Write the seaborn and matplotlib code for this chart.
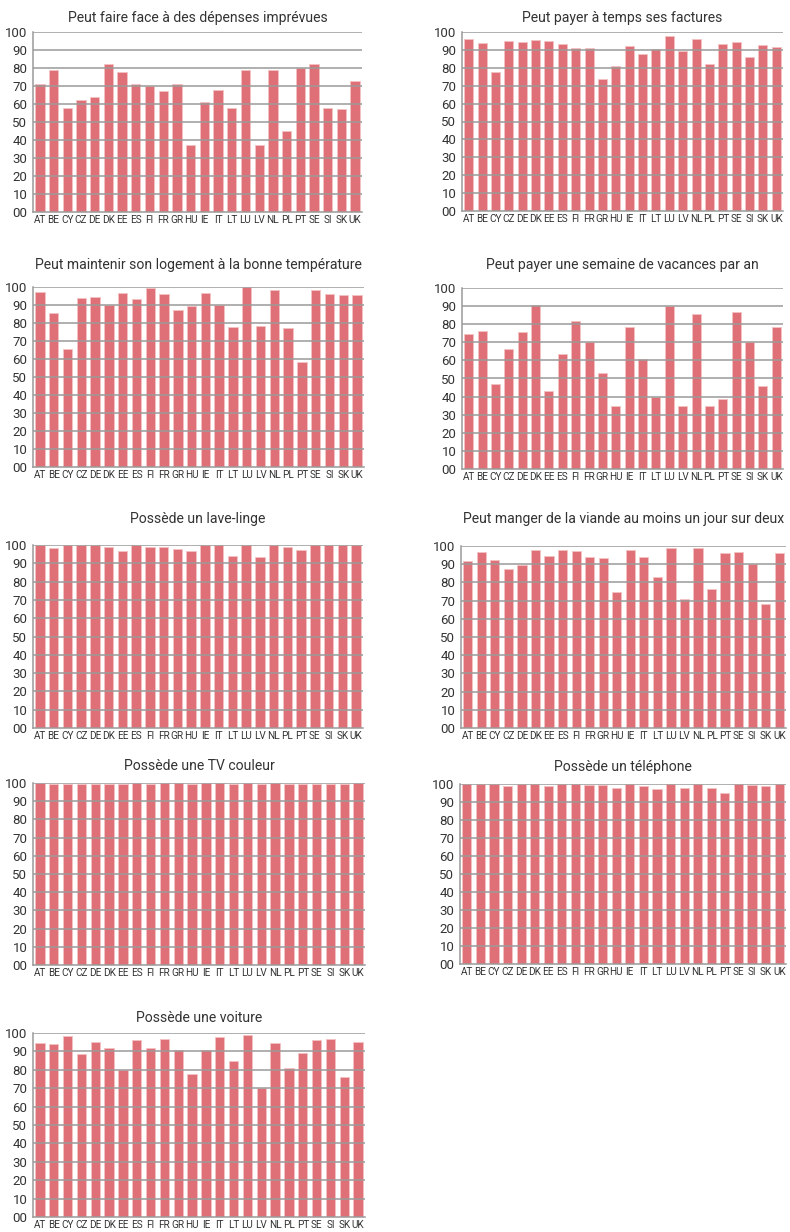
import numpy as np
import pandas as pd
import matplotlib
matplotlib.use('Agg')
import matplotlib.pyplot as plt
import seaborn as sns

countries = ['AT', 'BE', 'CY', 'CZ', 'DE', 'DK', 'EE', 'ES', 'FI', 'FR', 'GR', 'HU',
             'IE', 'IT', 'LT', 'LU', 'LV', 'NL', 'PL', 'PT', 'SE', 'SI', 'SK', 'UK']

depenses_imprevues = [71, 79, 58, 62, 64, 82, 78, 71, 70, 67, 71, 37,
                      61, 68, 58, 79, 37, 79, 45, 80, 82, 58, 57, 73]
factures = [96.3, 93.9, 77.5, 94.8, 94.2, 95.5, 95.2, 93.5, 91.1, 91.1, 73.6, 80.9,
            92.4, 87.9, 90.7, 97.6, 89.4, 95.9, 82.3, 93.1, 94.4, 85.9, 92.6, 91.4]
temperature = [97.4, 85.4, 65.6, 94.1, 94.6, 89.8, 96.7, 93.1, 99.3, 96.0, 87.0, 89.6,
               96.7, 90.0, 77.8, 99.8, 78.3, 98.3, 77.4, 58.3, 98.3, 96.1, 95.7, 95.7]
vacances = [74.4, 76.2, 46.9, 66.3, 75.5, 90.4, 43.2, 63.8, 81.5, 70.1, 52.9, 34.7,
            78.4, 60.7, 40.0, 90.0, 34.7, 85.6, 35.0, 38.4, 86.7, 70.3, 45.9, 78.4]
lave_linge = [100, 98.4, 100, 100, 100, 98.7, 96.7, 100, 98.7, 99.1, 98.0, 96.7,
              100, 100, 94.0, 100, 93.6, 100, 99.1, 97.3, 100, 100, 100, 100]
viande = [91.9, 96.9, 92.3, 87.2, 89.4, 97.6, 94.3, 98.0, 97.1, 94.0, 93.6, 74.7,
          98.0, 94.0, 83.2, 98.7, 70.7, 98.7, 76.4, 96.2, 96.5, 90.1, 68.3, 96.3]
tv_couleur = [100, 99.7, 99.7, 99.6, 99.6, 99.6, 99.6, 99.8, 99.2, 100, 100, 99.5,
              100, 99.8, 99.2, 100, 99.2, 100, 99.2, 99.6, 99.6, 99.6, 99.6, 100]
telephone = [100, 100, 100, 99.1, 100, 100, 99.1, 100, 100, 99.6, 99.6, 97.6,
             100, 99.1, 97.0, 100, 97.6, 100, 98.0, 95.2, 100, 99.6, 98.7, 100]
voiture = [94.4, 93.9, 98.6, 88.6, 95.3, 91.7, 79.9, 96.0, 91.7, 96.9, 91.0, 77.6,
           91.0, 97.6, 85.0, 98.9, 70.3, 94.8, 80.8, 89.0, 96.4, 96.9, 76.3, 95.3]

titles = ['Peut faire face à des dépenses imprévues',
          'Peut payer à temps ses factures',
          'Peut maintenir son logement à la bonne température',
          'Peut payer une semaine de vacances par an',
          'Possède un lave-linge',
          'Peut manger de la viande au moins un jour sur deux',
          'Possède une TV couleur',
          'Possède un téléphone',
          'Possède une voiture']
series = [depenses_imprevues, factures, temperature, vacances, lave_linge,
          viande, tv_couleur, telephone, voiture]
yticks = [0, 10, 20, 30, 40, 50, 60, 70, 80, 90, 100]
ytick_labels = ['00', '10', '20', '30', '40', '50', '60', '70', '80', '90', '100']

sns.set_style('white')
plt.rcParams['font.family'] = ['Roboto', 'DejaVu Sans']

W, H = 790, 1232
# panel boxes in pixels: left, top, right, bottom
boxes = [(33, 32, 362, 212), (462, 32, 783, 211),
         (33, 287, 364, 467), (462, 288, 783, 469),
         (33, 545, 363, 728), (461, 546, 786, 728),
         (33, 783, 365, 965), (460, 784, 786, 964),
         (33, 1033, 365, 1217)]
# gap between title and panel top (pixels)
title_pads = [10, 10, 17.5, 18.5, 22.5, 23.5, 13.5, 12.5, 11.5]

bar_color = '#e07077'
grid_color = '#9a9a9a'
text_color = '#333333'

fig = plt.figure(figsize=(W / 100, H / 100), dpi=100)
for (l, t, r, b), title, vals, tp in zip(boxes, titles, series, title_pads):
    ax = fig.add_axes([l / W, 1 - b / H, (r - l) / W, (b - t) / H])
    df = pd.DataFrame({'pays': countries, 'valeur': vals})
    sns.barplot(data=df, x='pays', y='valeur', color=bar_color, width=0.68,
                saturation=1, edgecolor='#f4c2c4', linewidth=0.6, ax=ax)
    ax.set_ylim(0, 100)
    ax.set_xlim(-0.5, len(countries) - 0.5)
    ax.set_axisbelow(False)
    for y in yticks[1:]:
        ax.axhline(y, color=grid_color, lw=1.1, zorder=3)
    ax.set_yticks(yticks)
    ax.set_yticklabels(ytick_labels, fontsize=9.5, color=text_color)
    ax.set_xticks(range(len(countries)))
    ax.set_xticklabels(countries, fontsize=7.2, color=text_color)
    ax.set_xticks(np.arange(-0.5, len(countries), 1), minor=True)
    ax.tick_params(axis='x', which='major', length=0, pad=2.5)
    ax.tick_params(axis='x', which='minor', length=2.5, color=grid_color, width=0.8)
    ax.tick_params(axis='y', length=3, color=grid_color, width=0.8, pad=1)
    ax.set_xlabel('')
    ax.set_ylabel('')
    ax.set_title(title, fontsize=10.1, color=text_color, pad=tp * 0.72)
    for side in ['top', 'right']:
        ax.spines[side].set_visible(False)
    for side in ['left', 'bottom']:
        ax.spines[side].set_color(grid_color)
        ax.spines[side].set_linewidth(1.1)

fig.savefig('out.png', dpi=100)
